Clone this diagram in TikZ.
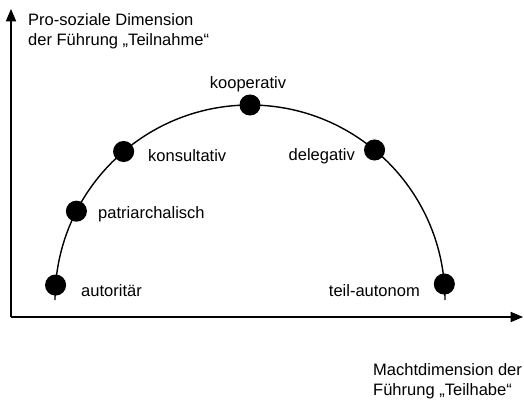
\documentclass[tikz,border=0pt]{standalone}
\usepackage{fontspec}
\setmainfont{Liberation Sans}
\usetikzlibrary{calc,arrows}

\begin{document}
\begin{tikzpicture}[x=0.02cm,y=0.02cm,font=\fontsize{9.4}{11.5}\selectfont]
  \useasboundingbox (0,0) rectangle (524,400);
  \tikzset{dot/.style={circle,fill=black,inner sep=0pt,minimum size=12}}
  \coordinate (O) at (11,83);
  \coordinate (Y) at (11,391);
  \coordinate (X) at (523,83);
  \coordinate (C) at (250,100);
  \draw[semithick,-triangle 45] (O)--(Y);
  \draw[semithick,-triangle 45] (O)--(X);
  \draw[thick] ($(C)+(180:195)$) arc (180:0:195);
  \node[dot] (1) at ($(C)+(175.6:195)$) {};
  \node[dot] (2) at ($(C)+(152.9:195)$) {};
  \node[dot] (3) at ($(C)+(130.4:195)$) {};
  \node[dot] (4) at ($(C)+(90:195)$) {};
  \node[dot] (5) at ($(C)+(50.3:195)$) {};
  \node[dot] (6) at ($(C)+(4.7:195)$) {};
  \node[anchor=west] (a) at (75,109) {autoritär};
  \node[anchor=west] (b) at (92,186) {patriarchalisch};
  \node[anchor=west] (c) at (142,244) {konsultativ};
  \node (d) at (248,316) {kooperativ};
  \node[anchor=east] (e) at (361,244) {delegativ};
  \node[anchor=east] (f) at (426,109) {teil-autonom};
  \node[anchor=north west,align=left] (g) at (22,393) {Pro-soziale Dimension\\der Führung „Teilnahme“};
  \node[anchor=north west,align=left] (h) at (367,43) {Machtdimension der\\Führung „Teilhabe“};
\end{tikzpicture}
\end{document}
